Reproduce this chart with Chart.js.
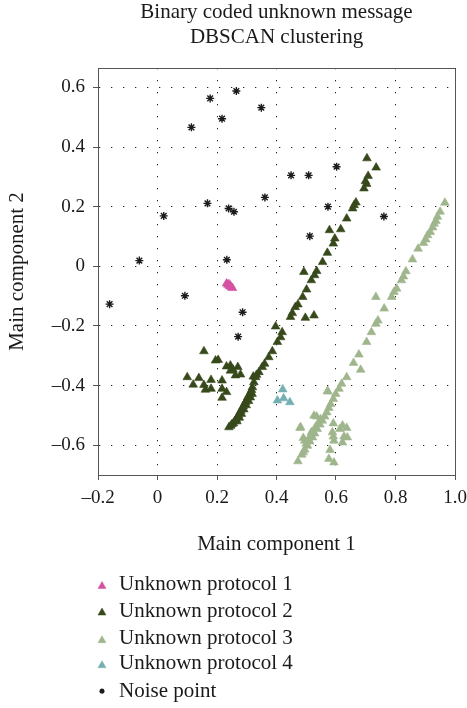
<!DOCTYPE html>
<html>
<head>
<meta charset="utf-8">
<script src="https://cdn.jsdelivr.net/npm/chart.js@4"></script>
<style>
  html, body { margin: 0; padding: 0; background: #fff; }
  #wrap { width: 467px; height: 708px; }
</style>
</head>
<body>
<div id="wrap"><canvas id="chart" width="467" height="708"></canvas></div>
<script>
const titleLines = ['Binary coded unknown message', 'DBSCAN clustering'];
const xLabel = 'Main component 1';
const yLabel = 'Main component 2';
const seriesNames = ['Unknown protocol 1', 'Unknown protocol 2', 'Unknown protocol 3', 'Unknown protocol 4', 'Noise point'];
const seriesColors = ['#d452a2', '#37491b', '#9fb68d', '#74b0b3', '#1c1c1c'];

// points, [x, y]
const protocol1 = [[0.232,-0.058],[0.237,-0.062],[0.242,-0.066],[0.247,-0.070],[0.252,-0.073],[0.240,-0.060],[0.245,-0.065]];

const protocol2 = [
  [0.704,0.362],[0.735,0.331],[0.708,0.303],[0.703,0.276],[0.694,0.261],[0.699,0.285],[0.667,0.214],[0.656,0.194],
  [0.661,0.205],[0.636,0.160],[0.616,0.124],[0.578,0.121],[0.596,0.093],[0.591,0.076],[0.571,0.045],[0.555,0.014],
  [0.492,-0.019],[0.535,-0.016],[0.528,-0.030],[0.517,-0.047],[0.501,-0.078],[0.488,-0.103],[0.472,-0.128],[0.463,-0.137],
  [0.453,-0.157],[0.497,-0.173],[0.526,-0.165],[0.447,-0.170],[0.397,-0.202],[0.419,-0.221],[0.414,-0.238],[0.403,-0.254],
  [0.386,-0.285],[0.374,-0.305],[0.360,-0.327],[0.352,-0.338],[0.341,-0.355],[0.333,-0.364],[0.322,-0.370],[0.330,-0.372],
  [0.324,-0.389],[0.319,-0.406],[0.313,-0.423],
  [0.308,-0.432],[0.303,-0.440],[0.300,-0.448],[0.296,-0.455],[0.292,-0.462],[0.288,-0.470],[0.284,-0.478],[0.280,-0.485],
  [0.276,-0.492],[0.272,-0.500],[0.268,-0.507],[0.264,-0.514],[0.259,-0.520],[0.255,-0.527],[0.250,-0.530],[0.246,-0.535],
  [0.240,-0.540],[0.312,-0.440],[0.306,-0.452],[0.298,-0.466],[0.290,-0.480],[0.282,-0.495],[0.275,-0.508],[0.267,-0.520],
  [0.316,-0.415],[0.318,-0.428],
  [0.156,-0.285],[0.195,-0.316],[0.204,-0.314],[0.232,-0.336],[0.245,-0.333],[0.254,-0.347],[0.270,-0.338],[0.262,-0.366],
  [0.279,-0.363],[0.245,-0.350],[0.100,-0.372],[0.139,-0.375],[0.180,-0.381],[0.217,-0.383],[0.120,-0.397],[0.156,-0.398],
  [0.161,-0.414],[0.180,-0.411],[0.217,-0.411],[0.232,-0.422],[0.217,-0.441]
];

const protocol3 = [
  [0.966,0.213],[0.950,0.183],[0.941,0.166],[0.936,0.152],[0.930,0.143],[0.925,0.130],[0.917,0.115],[0.908,0.104],
  [0.902,0.090],[0.894,0.078],[0.876,0.059],[0.857,0.023],[0.835,-0.017],[0.827,-0.034],[0.820,-0.047],[0.804,-0.075],
  [0.795,-0.086],[0.787,-0.103],[0.734,-0.103],[0.762,-0.142],[0.741,-0.182],[0.734,-0.193],[0.719,-0.221],[0.703,-0.254],
  [0.677,-0.296],[0.659,-0.324],[0.683,-0.347],[0.636,-0.372],[0.619,-0.394],[0.610,-0.411],[0.573,-0.420],[0.599,-0.428],
  [0.591,-0.445],[0.582,-0.462],[0.576,-0.475],[0.569,-0.490],[0.562,-0.504],[0.554,-0.518],[0.546,-0.531],[0.537,-0.546],
  [0.528,-0.561],[0.521,-0.574],[0.512,-0.588],[0.504,-0.602],[0.495,-0.615],[0.490,-0.624],[0.526,-0.501],[0.535,-0.504],
  [0.479,-0.542],[0.490,-0.576],[0.495,-0.585],[0.517,-0.557],[0.472,-0.654],[0.591,-0.527],[0.622,-0.534],[0.636,-0.542],
  [0.588,-0.557],[0.591,-0.571],[0.627,-0.571],[0.638,-0.574],[0.622,-0.591],[0.580,-0.616],[0.576,-0.646],[0.593,-0.658],
  [0.593,-0.585],[0.613,-0.546],[0.481,-0.540],[0.571,-0.419],
  [0.508,-0.580],[0.515,-0.568],[0.523,-0.555],[0.531,-0.540],[0.540,-0.527],[0.548,-0.513],[0.500,-0.595],[0.485,-0.632]
];

const protocol4 = [[0.421,-0.413],[0.403,-0.450],[0.424,-0.443],[0.445,-0.456]];

const noise = [
  [0.177,0.563],[0.265,0.588],[0.217,0.495],[0.114,0.466],[0.349,0.532],[0.021,0.169],[0.168,0.211],[0.239,0.194],
  [0.257,0.183],[0.361,0.231],[0.449,0.305],[0.508,0.305],[0.602,0.334],[0.573,0.200],[0.761,0.167],[0.512,0.101],
  [-0.061,0.019],[0.233,0.022],[-0.161,-0.127],[0.092,-0.099],[0.286,-0.154],[0.271,-0.236]
];

const xMin = -0.2, xMax = 1.0;
const yMin = -0.7, yMax = 0.665;
const tickStep = 0.2;

const allSeries = [protocol1, protocol2, protocol3, protocol4, noise];
const serif = "'Liberation Serif', 'DejaVu Serif', serif";
const axisColor = '#555';

Chart.defaults.font.family = serif;
Chart.defaults.color = '#1a1a1a';

function toPoints(arr) {
  return arr.map(p => ({x: p[0], y: p[1]}));
}

function fmtTick(v) {
  if (Math.abs(v) < 1e-9) return '0';
  return (v < 0 ? '\u2013' : '') + Math.abs(v).toFixed(1);
}

const datasets = allSeries.map((arr, i) => {
  const isNoise = i === 4;
  return {
    label: seriesNames[i],
    data: toPoints(arr),
    pointStyle: isNoise ? 'star' : 'triangle',
    pointRadius: isNoise ? 4 : 5,
    pointBorderWidth: isNoise ? 1.4 : 0.6,
    backgroundColor: seriesColors[i],
    borderColor: seriesColors[i],
    showLine: false
  };
});

const frameBox = {
  id: 'frameBox',
  beforeDatasetsDraw(chart) {
    const a = chart.chartArea;
    const ctx = chart.ctx;
    ctx.save();
    ctx.strokeStyle = axisColor;
    ctx.lineWidth = 1;
    ctx.beginPath();
    ctx.moveTo(Math.round(a.left) + 0.5, Math.round(a.top) + 0.5);
    ctx.lineTo(Math.round(a.right) + 0.5, Math.round(a.top) + 0.5);
    ctx.lineTo(Math.round(a.right) + 0.5, Math.round(a.bottom) + 0.5);
    ctx.stroke();
    ctx.restore();
  }
};

// legend stacked below the axis title, one row per series
const legendRows = {
  id: 'legendRows',
  afterDraw(chart) {
    const ctx = chart.ctx;
    const rowY = [584.6, 611.2, 638.9, 663.9, 691.2];
    ctx.save();
    chart.data.datasets.forEach((ds, i) => {
      const y = rowY[i];
      ctx.fillStyle = ds.backgroundColor;
      ctx.strokeStyle = ds.borderColor;
      ctx.lineWidth = i === 4 ? 1.5 : 0.5;
      Chart.helpers.drawPoint(ctx, {
        pointStyle: ds.pointStyle,
        radius: i === 4 ? 2.6 : 4.6,
        rotation: 0,
        borderWidth: ctx.lineWidth
      }, 102, y + (i === 4 ? 0 : 1.5));
      ctx.fillStyle = '#1a1a1a';
      ctx.font = '21px ' + serif;
      ctx.textAlign = 'left';
      ctx.textBaseline = 'middle';
      ctx.fillText(ds.label, 119, y);
    });
    ctx.restore();
  }
};

new Chart(document.getElementById('chart'), {
  type: 'scatter',
  data: {datasets: datasets},
  plugins: [frameBox, legendRows],
  options: {
    responsive: false,
    devicePixelRatio: 1,
    animation: false,
    layout: {padding: {top: 0, left: 0, right: 12, bottom: 148}},
    plugins: {
      legend: {display: false},
      tooltip: {enabled: false},
      title: {
        display: true,
        fullSize: false,
        text: titleLines,
        color: '#1a1a1a',
        font: {size: 21, weight: 'normal', family: serif, lineHeight: 1.2},
        padding: {top: 0, bottom: 17.6}
      }
    },
    scales: {
      x: {
        type: 'linear',
        min: xMin,
        max: xMax,
        afterFit: s => { s.height = 85; s.paddingLeft = 0; s.paddingRight = 0; },
        ticks: {stepSize: tickStep, includeBounds: false, padding: 6.5, maxRotation: 0,
          font: {size: 19}, color: '#1a1a1a', callback: v => fmtTick(v)},
        grid: {color: '#222', lineWidth: 1, tickLength: 5, tickColor: axisColor, tickBorderDash: []},
        border: {display: true, color: axisColor, width: 1, dash: [1.3, 10.7]},
        title: {display: true, text: xLabel, color: '#1a1a1a',
          font: {size: 21, lineHeight: 1.2}, padding: {top: 0, bottom: 2.8}}
      },
      y: {
        type: 'linear',
        min: yMin,
        max: yMax,
        afterFit: s => { s.width = 98; s.paddingTop = 0; s.paddingBottom = 0; },
        ticks: {stepSize: tickStep, includeBounds: false, padding: 8,
          font: {size: 19}, color: '#1a1a1a', callback: v => fmtTick(v)},
        grid: {color: '#222', lineWidth: 1, tickLength: 5, tickColor: axisColor, tickBorderDash: []},
        border: {display: true, color: axisColor, width: 1, dash: [1.3, 10.7]},
        title: {display: true, text: yLabel, color: '#1a1a1a',
          font: {size: 21, lineHeight: 1.2}, padding: {top: 5, bottom: 0}}
      }
    }
  }
});
</script>
</body>
</html>
